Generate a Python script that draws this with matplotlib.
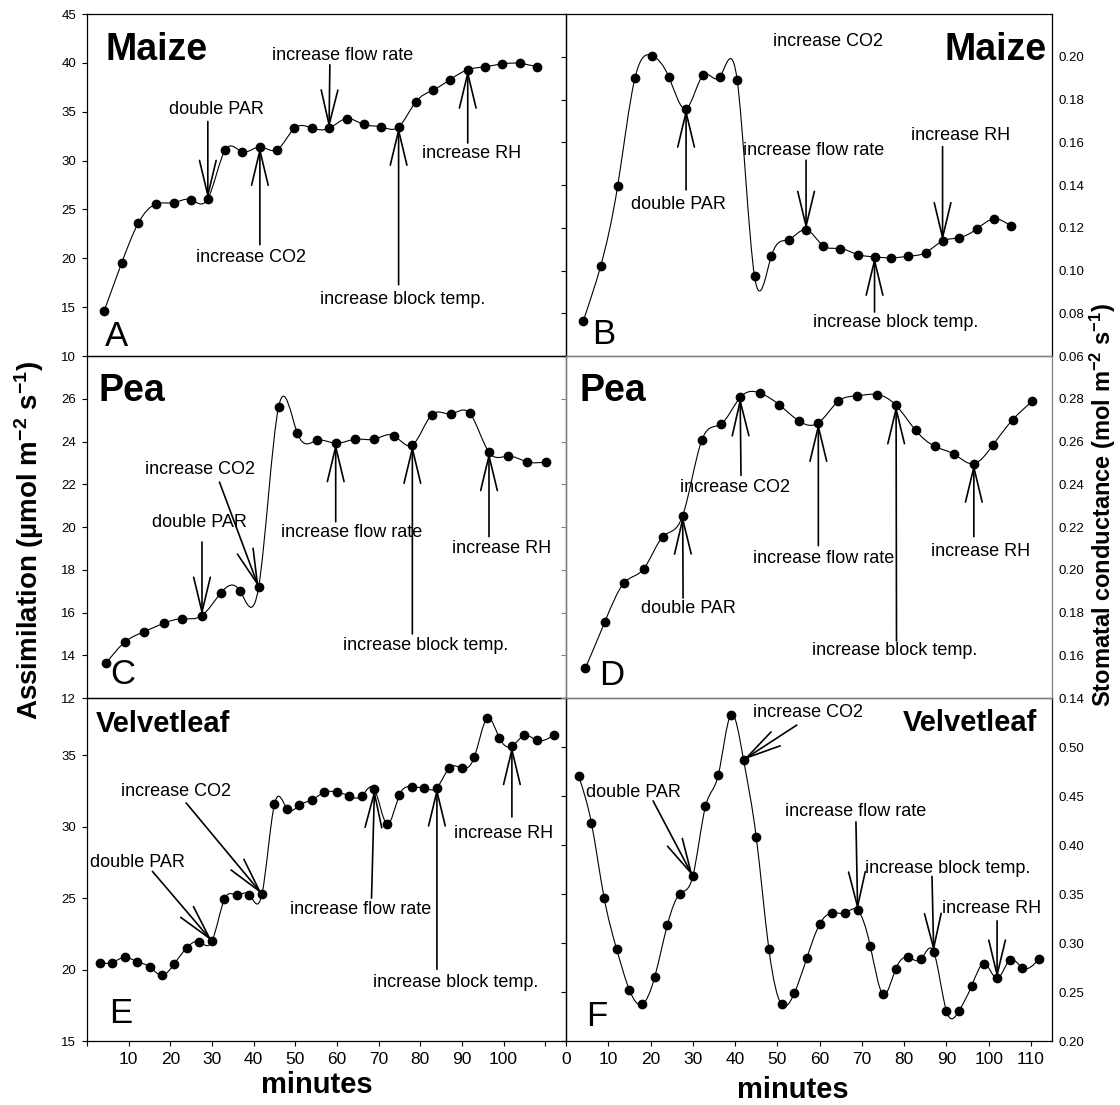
import numpy as np
import matplotlib
matplotlib.use('Agg')
import matplotlib.pyplot as plt
from matplotlib.path import Path
from matplotlib.patches import PathPatch

plt.rcParams['font.family'] = ['Liberation Sans', 'DejaVu Sans']
plt.rcParams['mathtext.fontset'] = 'custom'
plt.rcParams['mathtext.rm'] = 'Liberation Sans'
plt.rcParams['mathtext.bf'] = 'Liberation Sans:bold'
plt.rcParams['mathtext.default'] = 'bf'

# ---- data (minutes / values) ----
t_maize_a = [4.1, 8.3, 12.3, 16.5, 20.8, 24.9, 29.0, 33.2, 37.3, 41.5, 45.6, 49.8, 53.9,
             58.1, 62.3, 66.4, 70.6, 74.8, 78.9, 83.0, 87.2, 91.4, 95.5, 99.6, 103.9, 108.0]
assim_maize = [14.6, 19.5, 23.6, 25.55, 25.7, 26.0, 26.1, 31.1, 30.9, 31.4, 31.1, 33.3, 33.35,
               33.3, 34.3, 33.7, 33.45, 33.45, 36.0, 37.2, 38.3, 39.3, 39.6, 39.9, 39.95, 39.6]

t_maize_b = [4.1, 8.2, 12.2, 16.3, 20.4, 24.3, 28.4, 32.5, 36.4, 40.5, 44.6, 48.6, 52.7,
             56.8, 60.8, 64.9, 69.0, 73.0, 77.0, 81.0, 85.1, 89.1, 93.1, 97.3, 101.3, 105.3]
gs_maize = [0.0766, 0.1022, 0.1394, 0.190, 0.2005, 0.1907, 0.1757, 0.1915, 0.1906, 0.189,
            0.0974, 0.1069, 0.1145, 0.1191, 0.1117, 0.1103, 0.1075, 0.1064, 0.1059, 0.1067,
            0.1084, 0.1138, 0.1154, 0.1196, 0.1242, 0.1207]

t_pea = [4.6, 9.2, 13.7, 18.4, 22.9, 27.6, 32.1, 36.7, 41.2, 46.0, 50.5, 55.2,
         59.7, 64.4, 68.9, 73.6, 78.1, 82.7, 87.3, 91.9, 96.5, 101.1, 105.7, 110.3]
assim_pea = [13.63, 14.64, 15.10, 15.50, 15.71, 15.86, 16.91, 17.02, 17.19, 25.63, 24.39, 24.05,
             23.92, 24.11, 24.11, 24.28, 23.84, 25.24, 25.29, 25.32, 23.50, 23.32, 23.05, 23.05]
gs_pea = [0.1541, 0.1757, 0.1938, 0.2005, 0.2155, 0.2253, 0.2605, 0.2682, 0.2806, 0.2826,
          0.2771, 0.2695, 0.2687, 0.2788, 0.2814, 0.2820, 0.2769, 0.2653, 0.2577, 0.2540,
          0.2496, 0.2586, 0.2702, 0.2788]

t_velvet = [3, 6, 9, 12, 15, 18, 21, 24, 27, 30, 33, 36, 39, 42, 45, 48, 51, 54, 57, 60,
            63, 66, 69, 72, 75, 78, 81, 84, 87, 90, 93, 96, 99, 102, 105, 108, 112]
assim_velvet = [20.49, 20.49, 20.86, 20.56, 20.19, 19.60, 20.42, 21.54, 21.94, 21.99,
                24.93, 25.21, 25.23, 25.28, 31.57, 31.26, 31.50, 31.87, 32.41, 32.41,
                32.15, 32.15, 32.62, 30.19, 32.20, 32.78, 32.69, 32.73, 34.11, 34.11,
                34.88, 37.57, 36.21, 35.63, 36.38, 36.05, 36.38]
gs_velvet = [0.470, 0.4225, 0.3464, 0.2934, 0.2520, 0.2374, 0.2656, 0.3189, 0.3505, 0.3681,
             0.4395, 0.4711, 0.533, 0.4870, 0.4082, 0.2938, 0.2374, 0.2486, 0.2849, 0.3192,
             0.3308, 0.3308, 0.3335, 0.2968, 0.2476, 0.2734, 0.2853, 0.2836, 0.2910, 0.2309,
             0.2309, 0.2564, 0.2791, 0.2639, 0.2825, 0.2747, 0.2842]

yt_maize_a = [10, 15, 20, 25, 30, 35, 40, 45]
yt_maize_b = [0.06, 0.08, 0.10, 0.12, 0.14, 0.16, 0.18, 0.20]
yt_pea_c = [12, 14, 16, 18, 20, 22, 24, 26]
yt_pea_d = [0.14, 0.16, 0.18, 0.20, 0.22, 0.24, 0.26, 0.28]
yt_velvet_e = [15, 20, 25, 30, 35]
yt_velvet_f = [0.20, 0.25, 0.30, 0.35, 0.40, 0.45, 0.50]
xt_minutes = [0, 10, 20, 30, 40, 50, 60, 70, 80, 90, 100, 110]


def spline_path(x, y):
    # natural cubic spline through the points, written as bezier segments
    x = np.asarray(x, float)
    y = np.asarray(y, float)
    n = len(x)
    h = np.diff(x)
    A = np.zeros((n, n))
    r = np.zeros(n)
    A[0, 0] = A[-1, -1] = 1
    for i in range(1, n - 1):
        A[i, i - 1] = h[i - 1]
        A[i, i] = 2 * (h[i - 1] + h[i])
        A[i, i + 1] = h[i]
        r[i] = 6 * ((y[i + 1] - y[i]) / h[i] - (y[i] - y[i - 1]) / h[i - 1])
    M = np.linalg.solve(A, r)
    verts = [(x[0], y[0])]
    codes = [Path.MOVETO]
    for i in range(n - 1):
        d = (y[i + 1] - y[i]) / h[i]
        m0 = d - h[i] * (2 * M[i] + M[i + 1]) / 6
        m1 = d + h[i] * (M[i] + 2 * M[i + 1]) / 6
        verts += [(x[i] + h[i] / 3, y[i] + m0 * h[i] / 3),
                  (x[i + 1] - h[i] / 3, y[i + 1] - m1 * h[i] / 3),
                  (x[i + 1], y[i + 1])]
        codes += [Path.CURVE4] * 3
    return Path(verts, codes)


fig = plt.figure(figsize=(11.2, 11.05), dpi=100)

LEFT = (0.0777, 0.4277)
RIGHT = (0.5054, 0.4339)
ROWS = [(0.6778, 0.3095), (0.3683, 0.3095), (0.0579, 0.3104)]


def panel(col, row, ylim, yticks, right=False, fmt='{:g}'):
    x0, w = col
    y0, hh = ROWS[row]
    ax = fig.add_axes([x0, y0, w, hh])
    ax.patch.set_visible(False)
    ax.set_xlim(0, 115)
    ax.set_ylim(*ylim)
    ax.set_yticks(yticks)
    ax.set_yticklabels([fmt.format(v) for v in yticks])
    ax.tick_params(axis='y', direction='out', length=3.6, width=0.8, labelsize=9.5)
    if right:
        ax.tick_params(axis='y', left=True, right=False, labelleft=False,
                       labelright=True, pad=0.8)
    else:
        ax.tick_params(axis='y', pad=4.3)
    ax.tick_params(axis='x', bottom=False, labelbottom=False)
    for s in ax.spines.values():
        s.set_linewidth(0.9)
    return ax


def draw_series(ax, t, v):
    ax.add_patch(PathPatch(spline_path(t, v), fill=False, lw=0.8, ec='black'))
    ax.plot(t, v, 'o', color='black', ms=6)


def note(ax, text, xy, start=None, tip=None):
    ax.text(xy[0], xy[1], text, fontsize=13, ha='center', va='center')
    if start is not None:
        ax.annotate('', xy=tip, xytext=start,
                    arrowprops=dict(arrowstyle='->,head_length=2.5,head_width=0.6',
                                    mutation_scale=10, lw=1.2, color='black',
                                    shrinkA=0, shrinkB=0))


def minutes_axis(ax, labels):
    ax.set_xticks(xt_minutes)
    ax.set_xticklabels(labels)
    ax.tick_params(axis='x', bottom=True, labelbottom=True, direction='out',
                   length=3.6, width=0.8, labelsize=12.5, pad=4.5)


# ---- A: maize assimilation ----
ax = panel(LEFT, 0, (10, 45), yt_maize_a)
draw_series(ax, t_maize_a, assim_maize)
p = list(zip(t_maize_a, assim_maize))
note(ax, 'double PAR', (31.1, 35.2), (29.0, 34.0), p[6])
note(ax, 'increase CO2', (39.4, 20.1), (41.5, 21.4), p[9])
note(ax, 'increase flow rate', (61.3, 40.8), (58.3, 39.8), p[13])
note(ax, 'increase block temp.', (75.7, 15.8), (74.8, 17.3), p[17])
note(ax, 'increase RH', (92.4, 30.7), (91.4, 31.8), p[21])
ax.text(4.5, 41.3, 'Maize', fontsize=27, fontweight='bold', ha='left', va='center')
ax.text(7.0, 12.0, 'A', fontsize=25, ha='center', va='center')

# ---- B: maize conductance ----
ax = panel(RIGHT, 0, (0.06, 0.22), yt_maize_b, right=True, fmt='{:.2f}')
draw_series(ax, t_maize_b, gs_maize)
p = list(zip(t_maize_b, gs_maize))
note(ax, 'increase CO2', (62.1, 0.207))
note(ax, 'double PAR', (26.5, 0.131), (28.4, 0.1377), p[6])
note(ax, 'increase flow rate', (58.7, 0.156), (56.8, 0.1516), p[13])
note(ax, 'increase block temp.', (78.0, 0.0758), (73.0, 0.0806), p[17])
note(ax, 'increase RH', (93.3, 0.163), (89.1, 0.158), p[21])
ax.text(113.7, 0.203, 'Maize', fontsize=27, fontweight='bold', ha='right', va='center')
ax.text(8.85, 0.070, 'B', fontsize=25, ha='center', va='center')

# ---- C: pea assimilation ----
ax = panel(LEFT, 1, (12, 28), yt_pea_c)
draw_series(ax, t_pea, assim_pea)
p = list(zip(t_pea, assim_pea))
note(ax, 'double PAR', (27.1, 20.2), (27.6, 19.3), p[5])
note(ax, 'increase CO2', (27.1, 22.7), (31.8, 22.1), p[8])
note(ax, 'increase flow rate', (63.5, 19.74), (59.7, 20.25), p[12])
note(ax, 'increase block temp.', (81.4, 14.47), (78.1, 15.0), p[16])
note(ax, 'increase RH', (99.4, 19.0), (96.5, 19.55), p[20])
ax.text(2.8, 26.37, 'Pea', fontsize=27, fontweight='bold', ha='left', va='center')
ax.text(8.6, 13.1, 'C', fontsize=25, ha='center', va='center')

# ---- E: velvetleaf assimilation ----
ax = panel(LEFT, 2, (15, 39), yt_velvet_e)
draw_series(ax, t_velvet, assim_velvet)
p = list(zip(t_velvet, assim_velvet))
note(ax, 'double PAR', (12.1, 27.5), (15.7, 26.87), p[9])
note(ax, 'increase CO2', (21.3, 32.48), (23.8, 31.66), p[13])
note(ax, 'increase flow rate', (65.8, 24.18), (68.3, 25.0), p[22])
note(ax, 'increase block temp.', (88.6, 19.09), (84.0, 20.02), p[27])
note(ax, 'increase RH', (100.0, 29.5), (102.0, 30.68), p[33])
ax.text(2.2, 37.2, 'Velvetleaf', fontsize=21, fontweight='bold', ha='left', va='center')
ax.text(8.0, 16.94, 'E', fontsize=25, ha='center', va='center')
minutes_axis(ax, [''] + [str(v) for v in xt_minutes[1:-1]] + [''])

# ---- F: velvetleaf conductance ----
ax = panel(RIGHT, 2, (0.20, 0.55), yt_velvet_f, right=True, fmt='{:.2f}')
draw_series(ax, t_velvet, gs_velvet)
p = list(zip(t_velvet, gs_velvet))
note(ax, 'double PAR', (16.0, 0.454), (20.6, 0.445), p[9])
note(ax, 'increase CO2', (57.2, 0.535), (54.6, 0.5224), p[13])
note(ax, 'increase flow rate', (68.6, 0.4337), (68.6, 0.4235), p[22])
note(ax, 'increase block temp.', (90.2, 0.376), (86.6, 0.368), p[28])
note(ax, 'increase RH', (100.6, 0.335), (102.0, 0.3226), p[33])
ax.text(111.4, 0.5245, 'Velvetleaf', fontsize=21, fontweight='bold', ha='right', va='center')
ax.text(7.2, 0.2248, 'F', fontsize=25, ha='center', va='center')
minutes_axis(ax, [str(v) for v in xt_minutes])

# ---- D: pea conductance (grey frame, drawn last) ----
ax = panel(RIGHT, 1, (0.14, 0.30), yt_pea_d, right=True, fmt='{:.2f}')
for s in ax.spines.values():
    s.set_color('0.5')
ax.tick_params(axis='y', color='0.5')
draw_series(ax, t_pea, gs_pea)
p = list(zip(t_pea, gs_pea))
note(ax, 'double PAR', (29.0, 0.1817), (27.7, 0.1868), p[5])
note(ax, 'increase CO2', (40.0, 0.2383), (41.4, 0.2442), p[8])
note(ax, 'increase flow rate', (61.0, 0.2051), (59.7, 0.2113), p[12])
note(ax, 'increase block temp.', (77.8, 0.1623), (78.2, 0.1667), p[16])
note(ax, 'increase RH', (98.2, 0.2085), (96.5, 0.2155), p[20])
ax.text(3.1, 0.2837, 'Pea', fontsize=27, fontweight='bold', ha='left', va='center')
ax.text(10.8, 0.1504, 'D', fontsize=25, ha='center', va='center')

# ---- shared labels ----
fig.text(0.026, 0.511, r'Assimilation (µmol m$^{-2}$ s$^{-1}$)', rotation=90,
         fontsize=20, fontweight='bold', ha='center', va='center')
fig.text(0.985, 0.543, r'Stomatal conductance (mol m$^{-2}$ s$^{-1}$)', rotation=90,
         fontsize=17, fontweight='bold', ha='center', va='center')
fig.text(0.283, 0.018, 'minutes', fontsize=21, fontweight='bold', ha='center', va='center')
fig.text(0.708, 0.0136, 'minutes', fontsize=21, fontweight='bold', ha='center', va='center')

fig.savefig('out.png', dpi=100)
